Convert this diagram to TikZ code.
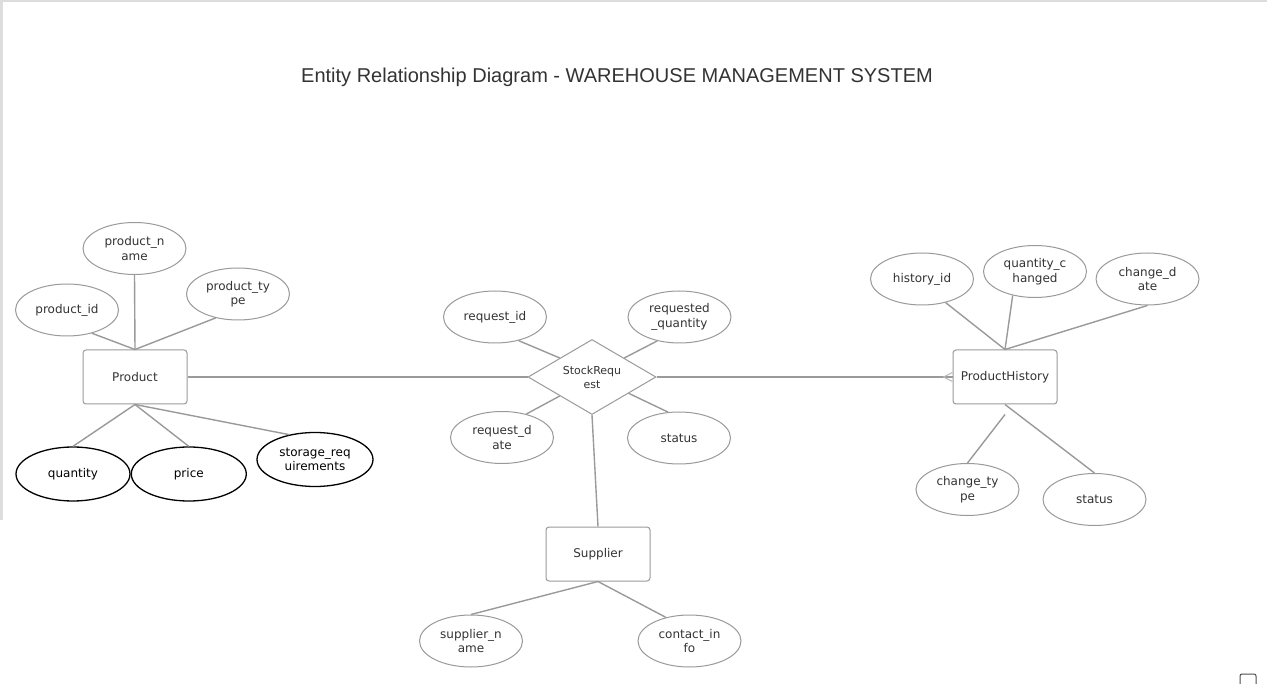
\documentclass[tikz,border=0pt]{standalone}
\usepackage{fontspec}
\setsansfont{DejaVu Sans}
\newfontfamily\titlefont{Liberation Sans}
\usepackage{tikz}
\usetikzlibrary{positioning, shapes.geometric}
\definecolor{edgegray}{HTML}{9A9A9A}
\definecolor{txtgray}{HTML}{333333}
\definecolor{framegray}{HTML}{DDDDDD}

\begin{document}
\begin{tikzpicture}[
    x=1pt, y=-1pt,
    font=\sffamily\fontsize{12}{14.5}\selectfont,
    box/.style={rectangle, draw=edgegray, line width=1pt, rounded corners=3pt, minimum width=104pt, minimum height=54pt, inner sep=0pt, text=txtgray},
    attr/.style={ellipse, draw=edgegray, line width=1pt, minimum width=103pt, minimum height=52pt, inner sep=0pt, align=center, text=txtgray},
    battr/.style={attr, draw=black, line width=1.3pt, minimum width=115pt, minimum height=54pt, text=black},
    rel/.style={diamond, draw=edgegray, line width=1pt, aspect=1.7, minimum width=128pt, minimum height=75pt, inner sep=0pt, align=center, text=txtgray, font=\sffamily\fontsize{11}{14}\selectfont},
    conn/.style={draw=edgegray, line width=1.4pt}
]
\useasboundingbox (0,0) rectangle (1267,684);
\fill[white] (0,0) rectangle (1267,684);
\fill[framegray] (0,0) rectangle (1267,2);
\fill[framegray] (0,0) rectangle (3,520);

% Title
\node[font=\titlefont\fontsize{20}{24}\selectfont, text=txtgray] (title) at (617,77) {Entity Relationship Diagram - WAREHOUSE MANAGEMENT SYSTEM};

% Entities and relationship
\node[box] (product) at (135,377) {Product};
\node[rel] (stockreq) at (592,377) {StockRequ\\est};
\node[box] (history) at (1005,377) {ProductHistory};
\node[box] (supplier) at (598,554) {Supplier};

% Product attributes
\node[attr] (pid) at (67,310) {product\_id};
\node[attr] (pname) at (134.5,248.5) {product\_n\\ame};
\node[attr] (ptype) at (238,294) {product\_ty\\pe};
\node[battr, minimum width=114pt] (qty) at (73,474) {quantity};
\node[battr, right=0pt of qty] (price) {price};
\node[battr, minimum width=116pt] (storage) at (315,459.5) {storage\_req\\uirements};

% StockRequest attributes
\node[attr] (rid) at (495,317) {request\_id};
\node[attr] (rqty) at (679.5,317) {requested\\\_quantity};
\node[attr] (rdate) at (502,437.5) {request\_d\\ate};
\node[attr] (rstatus) at (679,438) {status};

% ProductHistory attributes
\node[attr] (hid) at (922,279) {history\_id};
\node[attr] (hqty) at (1035,271.5) {quantity\_c\\hanged};
\node[attr] (hdate) at (1147.5,279) {change\_d\\ate};
\node[attr] (htype) at (967.5,489.5) {change\_ty\\pe};
\node[attr] (hstatus) at (1094.5,499.5) {status};
\coordinate (hgap) at ([yshift=-10pt]history.south);

% Supplier attributes
\node[attr] (sname) at (471,641) {supplier\_n\\ame};
\node[attr] (scontact) at (689.5,641) {contact\_in\\fo};

% Connectors
\draw[conn] (product.north) -- (pid.-43);
\draw[conn] (product.north) -- (pname.south);
\draw[conn] (product.north) -- (ptype.-133);
\draw[conn] (product.south) -- (qty.north);
\draw[conn] (product.south) -- (price.north);
\draw[conn] (product.south) -- (storage.136);
\draw[conn] (product.east) -- (stockreq.west);

\draw[conn] (stockreq.north west) -- (rid.-45);
\draw[conn] (stockreq.north east) -- (rqty.-133);
\draw[conn] (stockreq.south west) -- (rdate.44);
\draw[conn] (stockreq.-24) -- (rstatus.113);
\draw[conn] (stockreq.south) -- (supplier.north);
\draw[conn] (stockreq.east) -- (history.west);
\draw[edgegray!70, line width=1pt] ([yshift=4.5pt]history.west) -- ([xshift=-9pt]history.west) -- ([yshift=-4.5pt]history.west);

\draw[conn] (history.north) -- (hid.-45);
\draw[conn] (history.north) -- (hqty.-133);
\draw[conn] (history.north) -- (hdate.south);
\draw[conn] (hgap) -- (htype.north);
\draw[conn] (history.south) -- (hstatus.north);

\draw[conn] (supplier.south) -- (sname.north);
\draw[conn] (supplier.south) -- (scontact.135);

% Corner widget
\draw[black!70, line width=1pt, rounded corners=2pt] (1240,674) rectangle (1256,692);
\end{tikzpicture}
\end{document}
